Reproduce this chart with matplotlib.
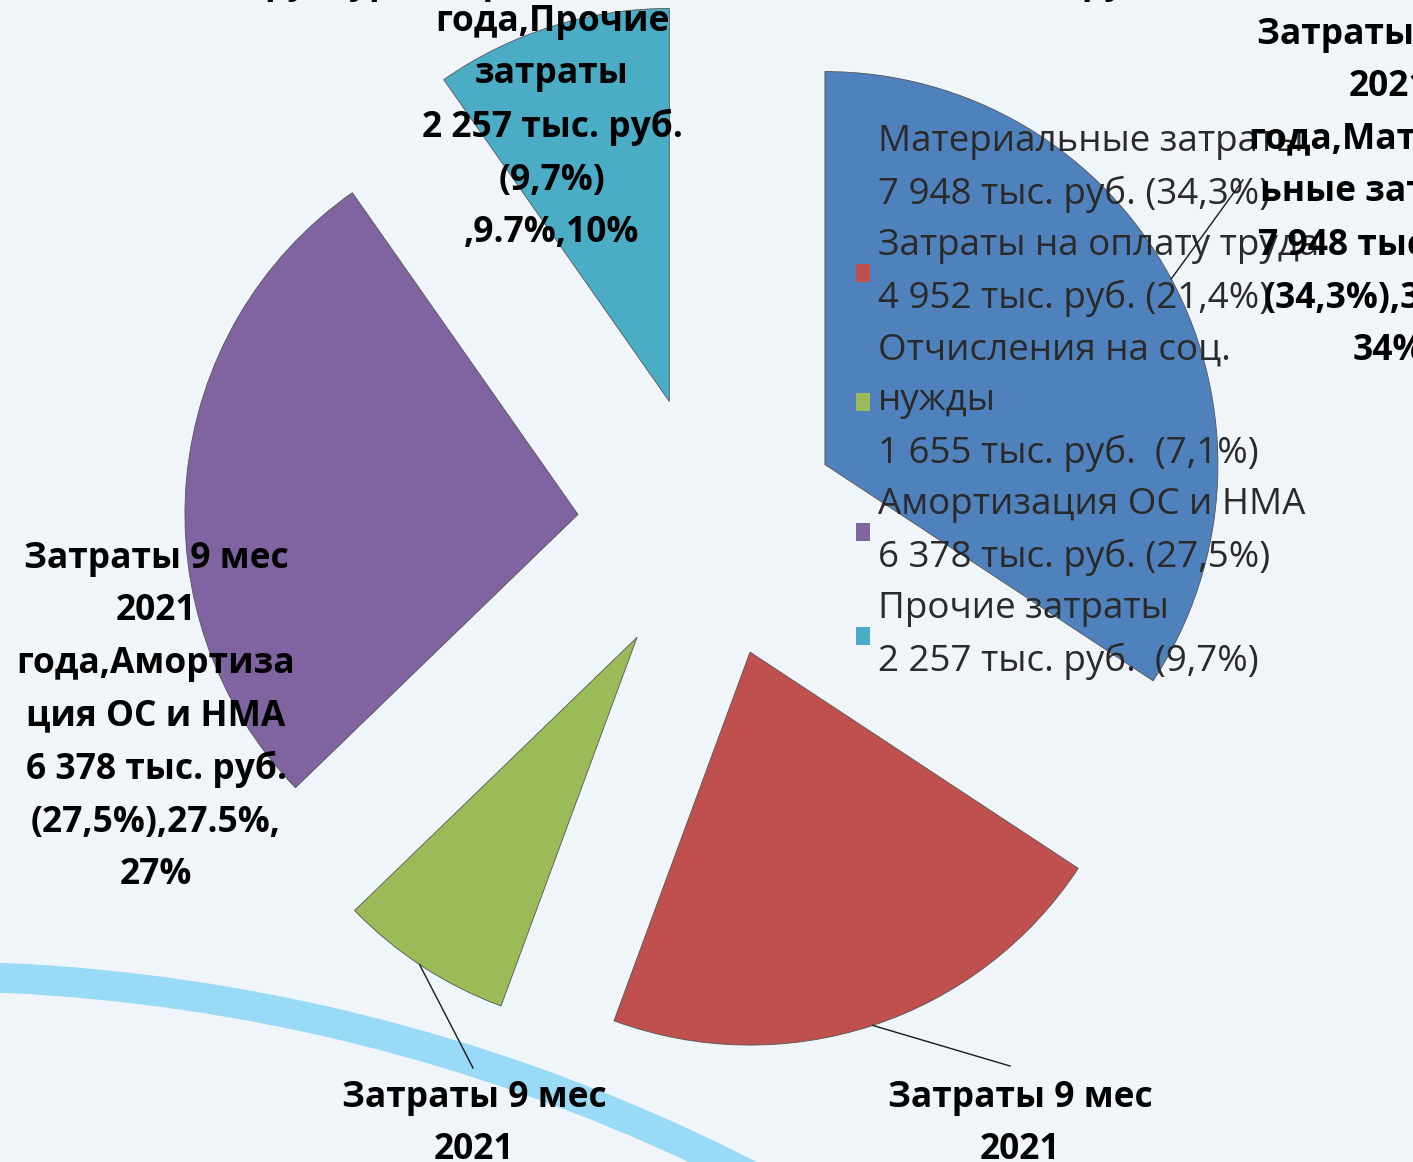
import numpy as np
import matplotlib
matplotlib.use("Agg")
import matplotlib.pyplot as plt
from matplotlib.patches import Arc

# ---------------- data ----------------
categories = ["Материальные затраты", "Затраты на оплату труда",
              "Отчисления на соц.\nнужды", "Амортизация ОС и НМА", "Прочие затраты"]
values = [7948, 4952, 1655, 6378, 2257]
value_text = ["7 948", "4 952", "1 655", "6 378", "2 257"]
pct_text = ["34,3%", "21,4%", "7,1%", "27,5%", "9,7%"]
legend_sep = [" ", " ", "  ", " ", "  "]
colors = ["#4f81bd", "#c0504d", "#9bbb59", "#8064a2", "#4bacc6"]

# data labels (wrapped as in the source chart)
data_labels = [
    "Затраты 9 мес\n2021\nгода,Материал\nьные затраты\n7 948 тыс. руб.\n(34,3%),34.3%,\n34%",
    "Затраты 9 мес\n2021\nгода,Затраты\nна оплату труда\n4 952 тыс. руб.\n(21,4%),21.4%,\n21%",
    "Затраты 9 мес\n2021\nгода,Отчислен\nия на соц.\nнужды\n1 655 тыс. руб.\n(7,1%),7.1%,7%",
    "Затраты 9 мес\n2021\nгода,Амортиза\nция ОС и НМА\n6 378 тыс. руб.\n(27,5%),27.5%,\n27%",
    "Затраты 9 мес\n2021\nгода,Прочие\nзатраты\n2 257 тыс. руб.\n(9,7%)\n,9.7%,10%",
]
title_text = "Структура затрат за 9 месяцев 2021 года, тыс. руб."

# ---------------- layout (pixel geometry of the picture) ----------------
W, H = 1413, 1162
CX, CY, RPX = 709, 527, 393.0
EXPLODE = 0.335
STEP_LAB = 51.8
STEP_LEG = 52.1
FONT = ["Open Sans", "DejaVu Sans"]


def P(x, y):
    return (x - CX) / RPX, (CY - y) / RPX


def spacing(pt, step):
    s = pt * 100 / 72
    return (step - 0.24 * s) / (0.76 * s)


fig = plt.figure(figsize=(W / 100, H / 100), dpi=100)
fig.patch.set_facecolor("#f0f5fa")
ax = fig.add_axes([0, 0, 1, 1])
ax.set_facecolor("none")

# background decorative band
BAND_R = 1819
bc = P(-78, 2795)
band = Arc(bc, 2 * BAND_R / RPX, 2 * BAND_R / RPX, theta1=55, theta2=100,
           color="#99dbf6", lw=30 * 0.72, zorder=0)
ax.add_patch(band)

legend_labels = [f"{c}\n{v} тыс. руб.{s}({p})"
                 for c, v, s, p in zip(categories, value_text, legend_sep, pct_text)]

wedges, _ = ax.pie(values, explode=[EXPLODE] * len(values), startangle=90,
                   counterclock=False, colors=colors, radius=1,
                   wedgeprops=dict(edgecolor="#555555", linewidth=0.6))
for w in wedges:
    w.set_zorder(2)

ax.set_xlim((0 - CX) / RPX, (W - CX) / RPX)
ax.set_ylim((CY - H) / RPX, CY / RPX)
ax.set_aspect("auto")
ax.axis("off")

# legend
FS_LEG = 26.5
fs_px = FS_LEG * 100 / 72
leg = ax.legend(wedges, legend_labels, loc="upper left",
                bbox_to_anchor=(856 / W, 1 - 124 / H), bbox_transform=fig.transFigure,
                frameon=False, handlelength=14 / fs_px, handleheight=14 / fs_px,
                handletextpad=8 / fs_px, borderpad=0, borderaxespad=0,
                labelspacing=STEP_LEG / fs_px - 1.0,
                prop={"family": FONT, "size": FS_LEG})
for t in leg.get_texts():
    t.set_color("#2a2a2a")
    t.set_linespacing(spacing(FS_LEG, STEP_LEG))
for h in leg.legend_handles:
    h.set_edgecolor("none")
leg.set_zorder(3)

# data labels
FS_LAB = 25.5
label_pos = [(1389, 193), (1020, 1101 + 3 * STEP_LAB), (474, 1101 + 3 * STEP_LAB),
             (156, 717), (552, 75)]
for (lx, ly), txt in zip(label_pos, data_labels):
    ax.text(*P(lx, ly), txt, ha="center", va="center", multialignment="center",
            fontsize=FS_LAB, fontweight="bold", family=FONT,
            color="#000000", linespacing=spacing(FS_LAB, STEP_LAB), zorder=5,
            clip_on=False)

# leader lines (from wedge arc to label)
leader = [(0, 28.2, (1243, 180)), (1, -71.8, (1010, 1066)), (2, -123.6, (473, 1068))]
for idx, ang, (ex, ey) in leader:
    wc = wedges[idx].center
    sx = wc[0] + np.cos(np.radians(ang))
    sy = wc[1] + np.sin(np.radians(ang))
    ax.plot([sx, P(ex, ey)[0]], [sy, P(ex, ey)[1]], color="#1a1a1a", lw=1.0, zorder=4)

# title (mostly cut off at the top in the source picture)
ax.text(*P(690, -7), title_text, ha="center", va="baseline", fontsize=FS_LAB,
        fontweight="bold", family=FONT, color="#000000", zorder=5, clip_on=False)

fig.savefig("out.png", dpi=100, facecolor=fig.get_facecolor())
